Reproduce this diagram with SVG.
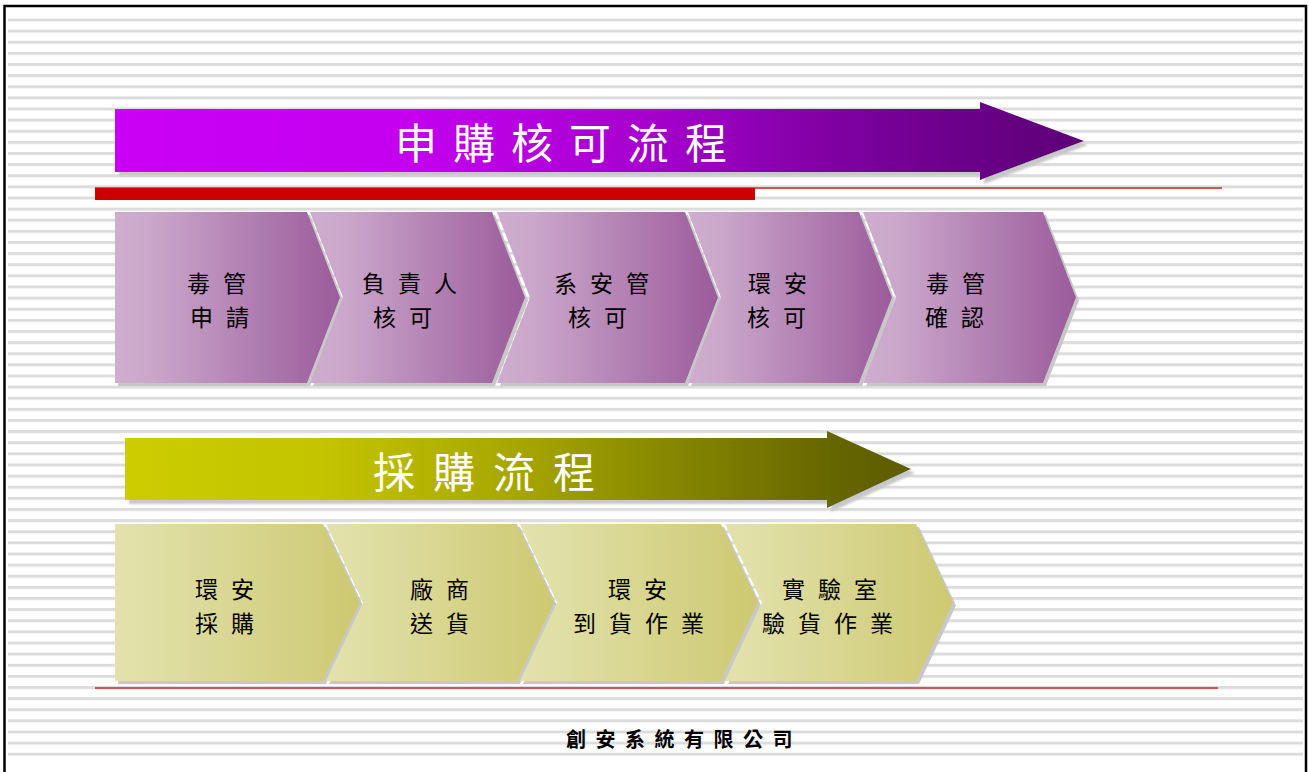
<svg xmlns="http://www.w3.org/2000/svg" width="1309" height="772" viewBox="0 0 1309 772">
<style>
.t{font-family:'Noto Sans CJK TC','Noto Sans CJK SC',sans-serif;}
.title{font-size:42px;fill:#ffffff;letter-spacing:16px;}
.lbl{font-size:23px;fill:#000000;letter-spacing:13px;}
.foot{font-size:20px;font-weight:bold;fill:#000000;letter-spacing:9.5px;}
.pc{fill:url(#pchev);filter:url(#sh);}
.yc{fill:url(#ychev);filter:url(#sh);}
.redthin{stroke:#D95252;stroke-width:2;fill:none;}
</style>
<defs>
<pattern id="stripes" x="0" y="18.5" width="20" height="11.125" patternUnits="userSpaceOnUse">
<rect x="0" y="0" width="20" height="3" fill="#DCDCDC"/>
</pattern>
<linearGradient id="parrow" x1="0" y1="0" x2="1" y2="0">
<stop offset="0" stop-color="#C900F5"/>
<stop offset="0.3" stop-color="#C400EF"/>
<stop offset="0.55" stop-color="#A600CE"/>
<stop offset="0.75" stop-color="#7E00A0"/>
<stop offset="0.88" stop-color="#6A0088"/>
<stop offset="1" stop-color="#5E0076"/>
</linearGradient>
<linearGradient id="yarrow" x1="0" y1="0" x2="1" y2="0">
<stop offset="0" stop-color="#CCCC00"/>
<stop offset="0.25" stop-color="#C4C400"/>
<stop offset="0.5" stop-color="#A6A600"/>
<stop offset="0.75" stop-color="#7E7E00"/>
<stop offset="0.9" stop-color="#666600"/>
<stop offset="1" stop-color="#5C5C00"/>
</linearGradient>
<linearGradient id="pchev" x1="0" y1="0" x2="1" y2="0">
<stop offset="0" stop-color="#CEADCE"/>
<stop offset="0.15" stop-color="#CBA8CB"/>
<stop offset="1" stop-color="#9B5B9B"/>
</linearGradient>
<linearGradient id="ychev" x1="0" y1="0" x2="1" y2="0">
<stop offset="0" stop-color="#E3E2AD"/>
<stop offset="0.15" stop-color="#E0DFA6"/>
<stop offset="1" stop-color="#CDC971"/>
</linearGradient>
<filter id="sh" x="-5%" y="-5%" width="115%" height="120%">
<feDropShadow dx="3" dy="3" stdDeviation="0.6" flood-color="#C8C8C8" flood-opacity="1"/>
</filter>
<filter id="sha" x="-5%" y="-10%" width="115%" height="130%">
<feDropShadow dx="4" dy="4" stdDeviation="0.8" flood-color="#C8C8C8" flood-opacity="1"/>
</filter>
</defs>

<g id="background">
<rect x="0" y="0" width="1309" height="772" fill="#FFFFFF"/>
<rect x="8" y="18" width="1295" height="738" fill="url(#stripes)"/>
<rect x="4.5" y="6" width="1301.5" height="800" fill="none" stroke="#000000" stroke-width="2.5"/>
<line class="redthin" x1="95" y1="188" x2="1222" y2="188"/>
<rect x="95" y="188" width="660" height="12" fill="#CC0000"/>
<line class="redthin" x1="95" y1="688" x2="1218" y2="688"/>
</g>

<g id="arrow-approval">
<polygon points="115,109 980,109 980,102 1084,141 980,180 980,172 115,172" fill="url(#parrow)" filter="url(#sha)"/>
<text class="t title" x="395" y="159">申購核可流程</text>
</g>

<g id="step-a1">
<polygon class="pc" points="115,212 307,212 340,297.5 307,383 115,383"/>
<text class="t lbl" x="187" y="291.5">毒管</text>
<text class="t lbl" x="190" y="325.5">申請</text>
</g>
<g id="step-a2">
<polygon class="pc" points="310,212 492,212 525,297.5 492,383 310,383 343,297.5"/>
<text class="t lbl" x="362" y="291.5">負責人</text>
<text class="t lbl" x="373" y="325.5">核可</text>
</g>
<g id="step-a3">
<polygon class="pc" points="497,212 685,212 718,297.5 685,383 497,383 530,297.5"/>
<text class="t lbl" x="554" y="291.5">系安管</text>
<text class="t lbl" x="568" y="325.5">核可</text>
</g>
<g id="step-a4">
<polygon class="pc" points="688,212 859,212 892,297.5 859,383 688,383 721,297.5"/>
<text class="t lbl" x="748" y="291.5">環安</text>
<text class="t lbl" x="747" y="325.5">核可</text>
</g>
<g id="step-a5">
<polygon class="pc" points="863,212 1043,212 1076,297.5 1043,383 863,383 896,297.5"/>
<text class="t lbl" x="926" y="291.5">毒管</text>
<text class="t lbl" x="925" y="325.5">確認</text>
</g>

<g id="arrow-purchase">
<polygon points="125,438 827,438 827,431 911,469 827,508 827,500 125,500" fill="url(#yarrow)" filter="url(#sha)"/>
<text class="t title" x="373" y="488" style="letter-spacing:18px">採購流程</text>
</g>

<g id="step-b1">
<polygon class="yc" points="115,524 323,524 360,602.5 323,681 115,681"/>
<text class="t lbl" x="195" y="598">環安</text>
<text class="t lbl" x="195" y="632">採購</text>
</g>
<g id="step-b2">
<polygon class="yc" points="326,524 517,524 554,602.5 517,681 326,681 363,602.5"/>
<text class="t lbl" x="410" y="598">廠商</text>
<text class="t lbl" x="410" y="632">送貨</text>
</g>
<g id="step-b3">
<polygon class="yc" points="520,524 721,524 758,602.5 721,681 520,681 557,602.5"/>
<text class="t lbl" x="608" y="598">環安</text>
<text class="t lbl" x="573" y="632">到貨作業</text>
</g>
<g id="step-b4">
<polygon class="yc" points="725,524 916,524 953,602.5 916,681 725,681 762,602.5"/>
<text class="t lbl" x="782" y="598">實驗室</text>
<text class="t lbl" x="762" y="632">驗貨作業</text>
</g>

<g id="connectors"></g>

<g id="footer">
<text class="t foot" x="566" y="747">創安系統有限公司</text>
</g>
</svg>
